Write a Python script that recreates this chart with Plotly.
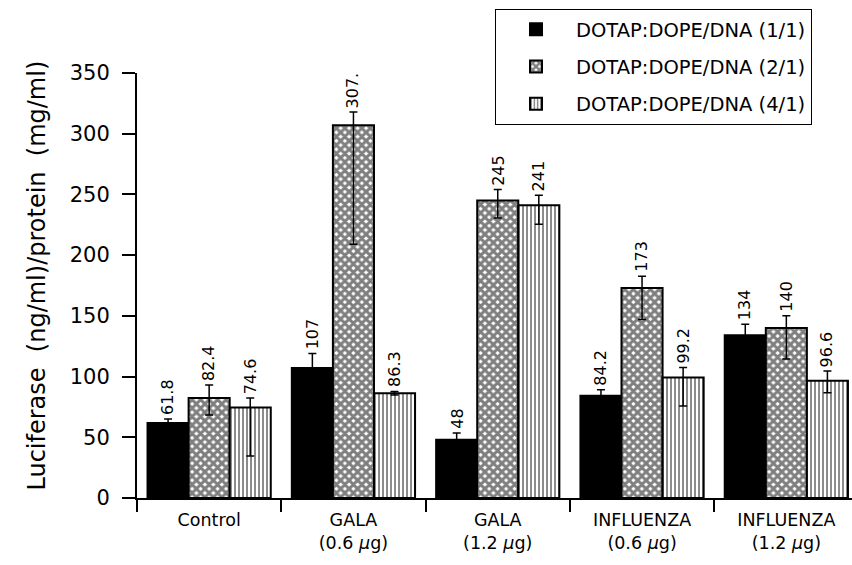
import plotly.graph_objects as go

categories = ["Control", "GALA<br>(0.6 <i>μ</i>g)", "GALA<br>(1.2 <i>μ</i>g)",
              "INFLUENZA<br>(0.6 <i>μ</i>g)", "INFLUENZA<br>(1.2 <i>μ</i>g)"]
series_names = ["DOTAP:DOPE/DNA (1/1)", "DOTAP:DOPE/DNA (2/1)", "DOTAP:DOPE/DNA (4/1)"]
y_title = "Luciferase  (ng/ml)/protein  (mg/ml)"

ratio_1_1 = [61.8, 107, 48, 84.2, 134]
ratio_2_1 = [82.4, 307, 245, 173, 140]
ratio_4_1 = [74.6, 86.3, 241, 99.2, 96.6]

labels_1_1 = ["61.8", "107", "48", "84.2", "134"]
labels_2_1 = ["82.4", "307.", "245", "173", "140"]
labels_4_1 = ["74.6", "86.3", "241", "99.2", "96.6"]

err_up_1_1 = [3.3, 12, 5.5, 5, 9]
err_up_2_1 = [10.7, 10.9, 9, 9.7, 10]
err_up_4_1 = [7.7, 1.5, 8.4, 8.3, 8]

err_down_1_1 = [3.3, 12, 5.5, 5, 9]
err_down_2_1 = [14, 98, 14.5, 26, 25.5]
err_down_4_1 = [40, 1.5, 15.5, 23.5, 10]

FONT = "DejaVu Sans"
BARGAP = 0.146

values = [ratio_1_1, ratio_2_1, ratio_4_1]
labels = [labels_1_1, labels_2_1, labels_4_1]
ups = [err_up_1_1, err_up_2_1, err_up_4_1]
downs = [err_down_1_1, err_down_2_1, err_down_4_1]
patterns = [
    dict(shape=""),
    dict(shape="x", size=6, solidity=0.75, fgcolor="black", bgcolor="white"),
    dict(shape="|", size=4, solidity=0.45, fgcolor="black", bgcolor="white"),
]
colors = ["black", "white", "white"]

fig = go.Figure()
for j in range(3):
    fig.add_trace(go.Bar(
        x=categories, y=values[j], name=series_names[j], legendgroup=f"g{j}",
        marker=dict(color=colors[j], line=dict(color="black", width=2), pattern=patterns[j]),
        error_y=dict(type="data", symmetric=False, array=ups[j], arrayminus=downs[j],
                     color="black", thickness=1.5, width=4),
    ))

bw = (1 - BARGAP) / 3
annotations = []
for j in range(3):
    for i, cat in enumerate(categories):
        annotations.append(dict(
            x=i + (j - 1) * bw, y=values[j][i] + ups[j][i], xref="x", yref="y",
            text=labels[j][i], showarrow=False, textangle=-90,
            xanchor="center", yanchor="bottom", borderpad=1, yshift=2,
            font=dict(family=FONT, size=16, color="black"),
        ))
annotations.append(dict(
    x=0, y=0.5, xref="paper", yref="paper", xshift=-101, yshift=10,
    text=y_title, showarrow=False, textangle=-90,
    xanchor="center", yanchor="middle",
    font=dict(family=FONT, size=24, color="black"),
))

fig.update_layout(
    width=852, height=565,
    margin=dict(l=137, r=0, t=73, b=67),
    paper_bgcolor="white", plot_bgcolor="white",
    barmode="group", bargap=BARGAP, bargroupgap=0,
    font=dict(family=FONT, color="black"),
    annotations=annotations,
    legend=dict(x=0.5007, y=1.1506, xanchor="left", yanchor="top",
                bordercolor="black", borderwidth=1, bgcolor="white",
                font=dict(family=FONT, size=19.5), itemwidth=70,
                tracegroupgap=9),
    xaxis=dict(type="category", categoryorder="array", categoryarray=categories,
               range=[-0.5, 4.455], tickson="boundaries", ticks="outside",
               ticklen=12, tickwidth=2, tickcolor="black",
               showline=True, linecolor="black", linewidth=1.5,
               showgrid=False, zeroline=False, ticklabelstandoff=5,
               tickfont=dict(family=FONT, size=17.5)),
    yaxis=dict(range=[0, 350], dtick=50, ticks="outside", ticklen=13, tickwidth=2,
               tickcolor="black", showline=True, linecolor="black", linewidth=2,
               showgrid=False, zeroline=False, ticklabelstandoff=8,
               tickfont=dict(family=FONT, size=21)),
)

fig.write_html("out.html")
